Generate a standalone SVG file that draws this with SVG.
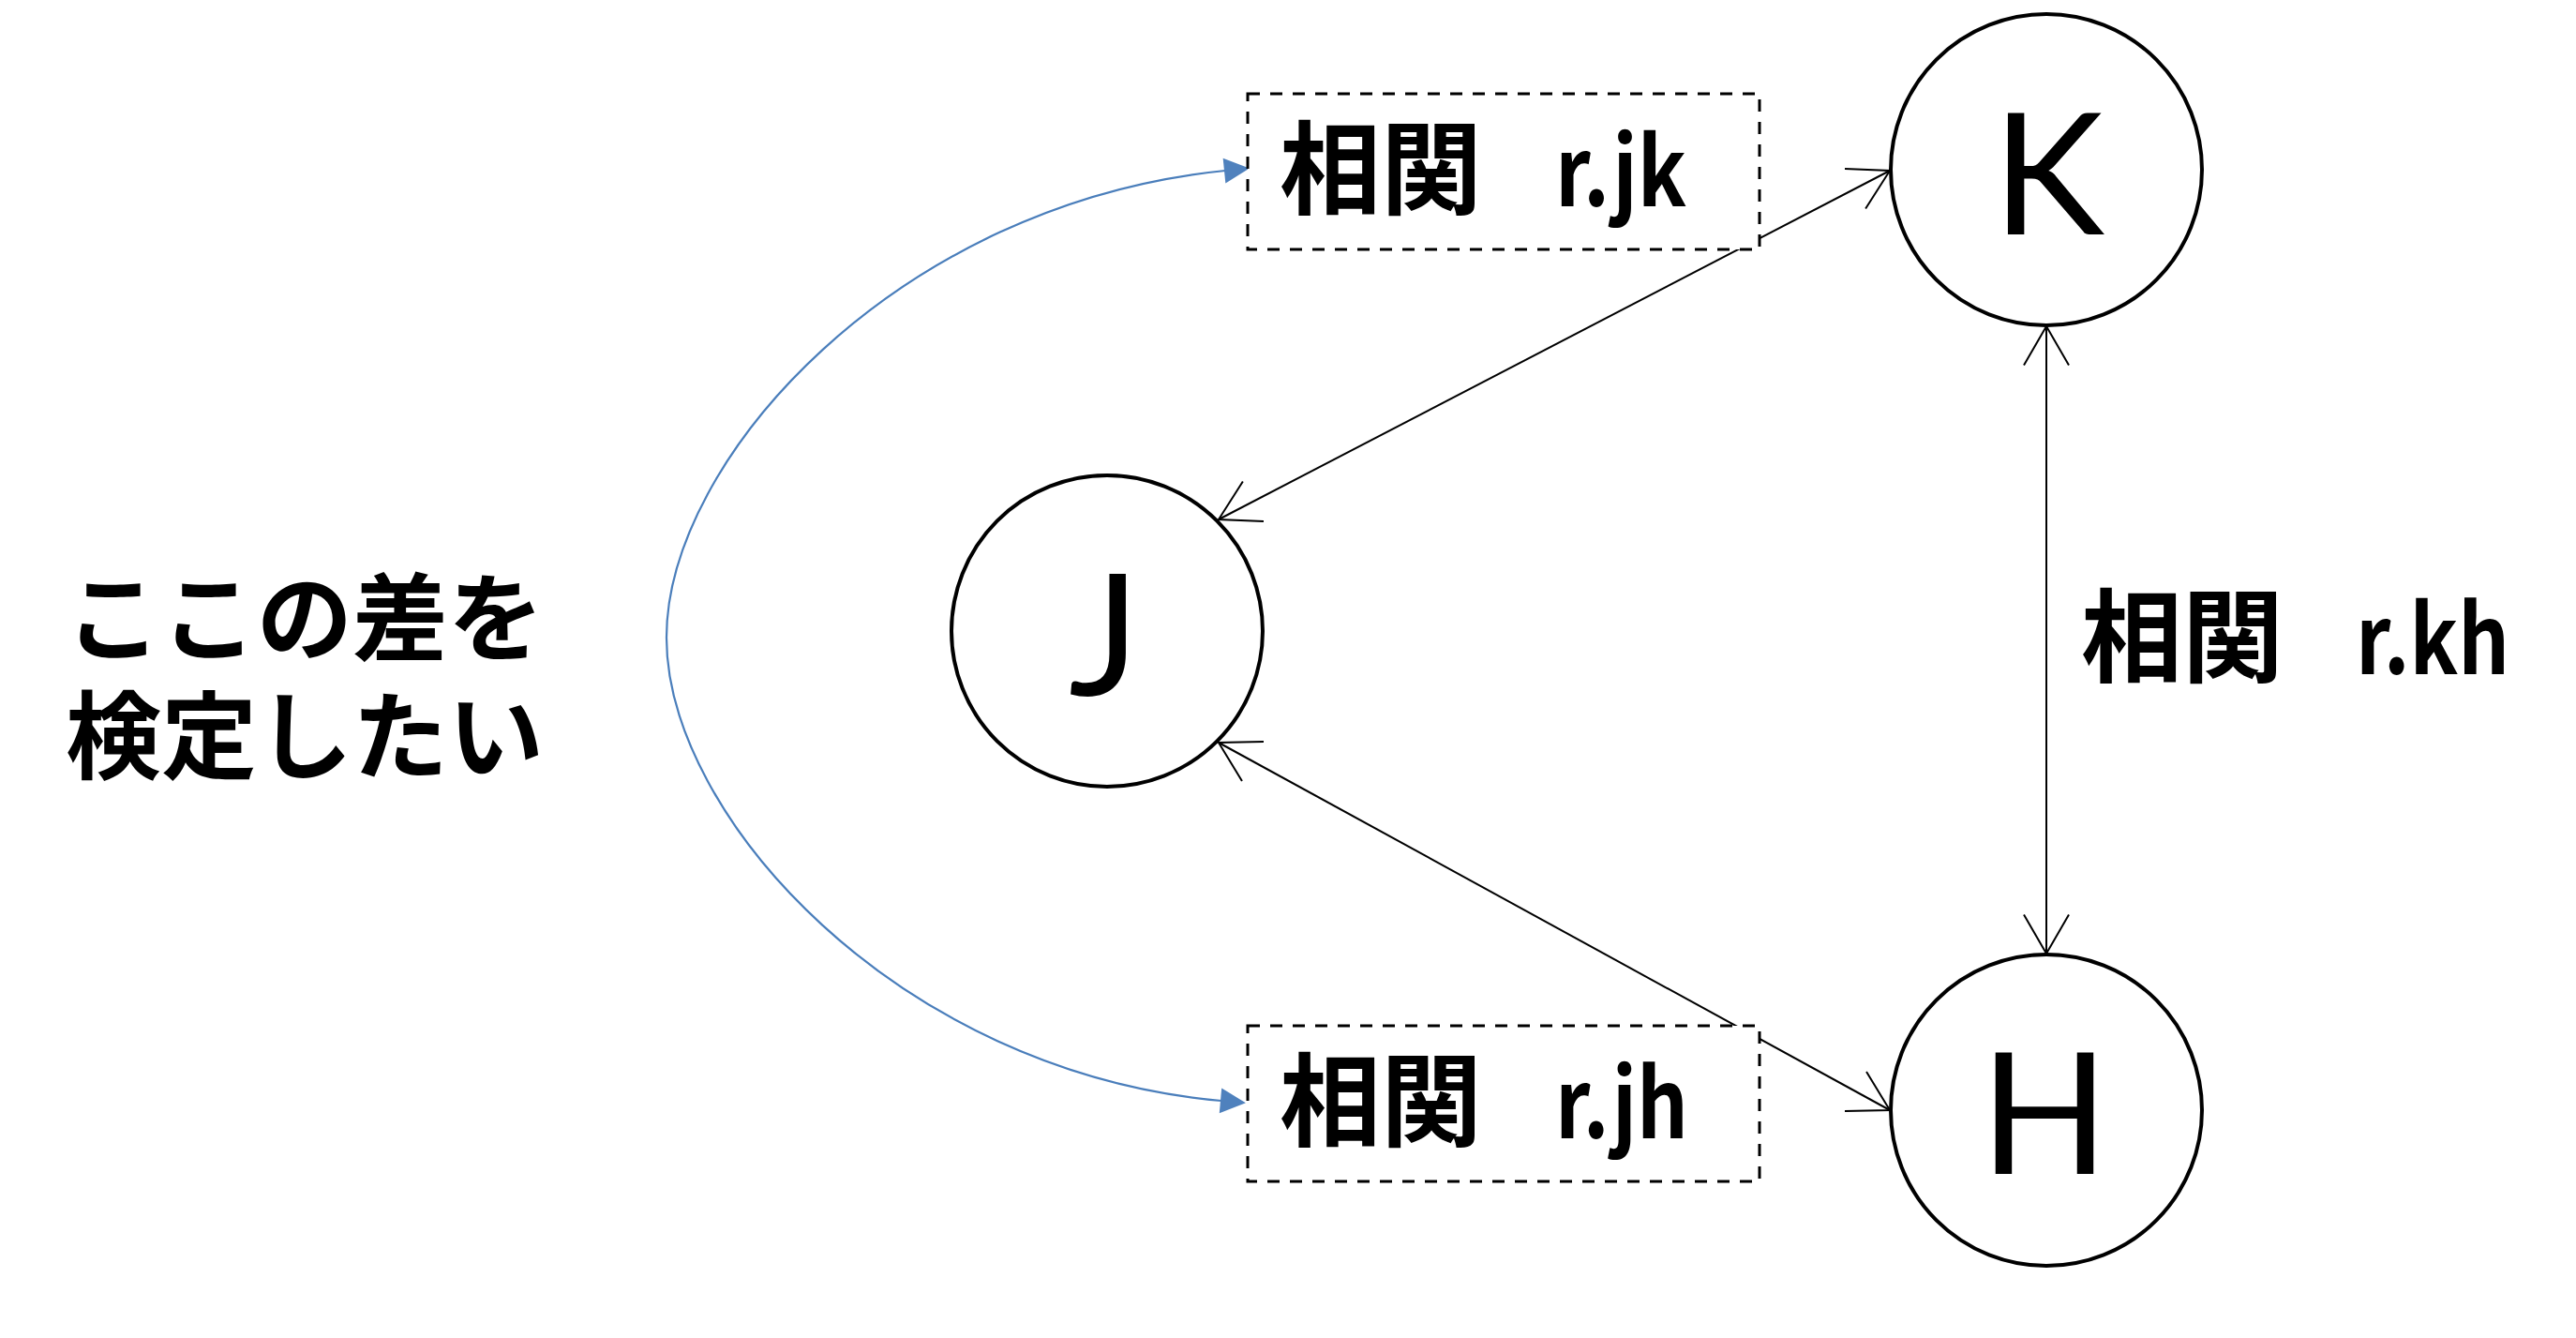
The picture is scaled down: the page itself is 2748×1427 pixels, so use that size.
<svg xmlns="http://www.w3.org/2000/svg" width="2748" height="1427" viewBox="0 0 2748 1427">
  <style>
    .node { fill: #ffffff; stroke: #000000; stroke-width: 4; }
    .letter { font-family: Lato, "Open Sans", "Liberation Sans", sans-serif; font-size: 180px; fill: #000000; text-anchor: middle; }
    .box { fill: #ffffff; stroke: #000000; stroke-width: 3; stroke-dasharray: 13 11; }
    .lbl { font-family: "Noto Sans CJK JP", "Noto Sans", sans-serif; font-weight: bold; font-size: 108px; fill: #000000; }
    .lat { font-size: 102px; }
    .note { font-family: "Noto Sans CJK JP", "Noto Sans", sans-serif; font-weight: bold; font-size: 102px; fill: #000000; }
    .rel { fill: none; stroke: #000000; stroke-width: 2; marker-start: url(#open); marker-end: url(#open); }
    .cmp { fill: none; stroke: #4A7EBB; stroke-width: 2.2; marker-start: url(#tri); marker-end: url(#tri); }
  </style>
  <defs>
    <marker id="open" markerUnits="userSpaceOnUse" markerWidth="60" markerHeight="60" viewBox="-50 -30 60 60" refX="0" refY="0" orient="auto-start-reverse" overflow="visible">
      <path d="M-41.6,-24 L0,0 L-41.6,24" fill="none" stroke="#000000" stroke-width="2"/>
    </marker>
    <marker id="tri" markerUnits="userSpaceOnUse" markerWidth="30" markerHeight="30" viewBox="0 0 30 30" refX="1" refY="13.5" orient="auto-start-reverse" overflow="visible">
      <path d="M0,0 L27,13.5 L0,27 Z" fill="#4F81BD"/>
    </marker>
  </defs>

  <rect x="0" y="0" width="2748" height="1427" fill="#ffffff"/>

  <g id="connectors">
    <line id="edge-j-k" class="rel" x1="1300" y1="554" x2="2016" y2="182"/>
    <line id="edge-j-h" class="rel" x1="1300" y1="792" x2="2016" y2="1184"/>
    <line id="edge-k-h" class="rel" x1="2183" y1="348" x2="2183" y2="1017"/>
    <path id="edge-compare" class="cmp" d="M1307,182 C957,217 711,490 711,680 C711,870 957,1143 1303,1174"/>
  </g>

  <g id="node-J">
    <circle class="node" cx="1181" cy="673" r="166"/>
    <text class="letter" x="1178" y="742">J</text>
  </g>
  <g id="node-K">
    <circle class="node" cx="2183" cy="181" r="166"/>
    <text class="letter" x="2185" y="250">K</text>
  </g>
  <g id="node-H">
    <circle class="node" cx="2183" cy="1184" r="166"/>
    <text class="letter" x="2181" y="1252">H</text>
  </g>

  <g id="label-rjk">
    <rect class="box" x="1331" y="100" width="546" height="166"/>
    <text class="lbl" x="1365" y="220">相関 <tspan class="lat" x="1659" textLength="140" lengthAdjust="spacingAndGlyphs">r.jk</tspan></text>
  </g>
  <g id="label-rjh">
    <rect class="box" x="1331" y="1094" width="546" height="166"/>
    <text class="lbl" x="1365" y="1214">相関 <tspan class="lat" x="1659" textLength="142" lengthAdjust="spacingAndGlyphs">r.jh</tspan></text>
  </g>
  <g id="label-rkh">
    <text class="lbl" x="2220" y="719">相関 <tspan class="lat" x="2513" textLength="164" lengthAdjust="spacingAndGlyphs">r.kh</tspan></text>
  </g>
  <g id="note">
    <text class="note" x="70" y="697">ここの差を<tspan x="70" y="823">検定したい</tspan></text>
  </g>
</svg>
